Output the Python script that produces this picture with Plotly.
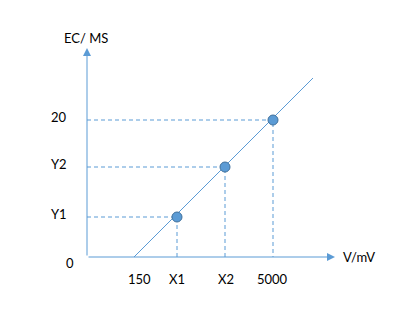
import plotly.graph_objects as go

# Schematic values (drawing units on each axis)
x_tick_vals = [47, 90, 138, 186]
x_tick_text = ["150", "X1", "X2", "5000"]
pt_x = [90, 138, 186]
pt_y = [40, 90, 137]
y_tick_text = ["Y1", "Y2", "20"]
line_x = [47, 226]
line_y = [0, 179]

BLUE = "#5B9BD5"
DARK = "#41719C"
FONT = dict(family="Lato", size=13, color="#000000")

X_MAX, Y_MAX = 248, 209
x_label_shift = [5, 0, 1, -1]

fig = go.Figure()

# dashed guide lines
for px, py in zip(pt_x, pt_y):
    fig.add_trace(go.Scatter(x=[0, px, px], y=[py, py, 0], mode="lines",
                             line=dict(color=BLUE, width=1, dash="4px,3px"),
                             hoverinfo="skip", showlegend=False))

# calibration line
fig.add_trace(go.Scatter(x=line_x, y=line_y, mode="lines",
                         line=dict(color=BLUE, width=1), showlegend=False))

# points
fig.add_trace(go.Scatter(x=pt_x, y=pt_y, mode="markers",
                         marker=dict(size=10, color=BLUE, line=dict(color=DARK, width=1)),
                         showlegend=False))

ann = []
# axes with arrows
ann.append(dict(x=X_MAX, y=0, ax=0, ay=0, xref="x", yref="y", axref="x", ayref="y",
                text="", showarrow=True, arrowhead=2, arrowsize=1.6, arrowwidth=1,
                arrowcolor=BLUE, standoff=0, startstandoff=0))
ann.append(dict(x=0, y=Y_MAX, ax=0, ay=0, xref="x", yref="y", axref="x", ayref="y",
                text="", showarrow=True, arrowhead=2, arrowsize=1.6, arrowwidth=1,
                arrowcolor=BLUE, standoff=0, startstandoff=0))

# x tick labels
for v, t, s in zip(x_tick_vals, x_tick_text, x_label_shift):
    ann.append(dict(x=v, y=0, xref="x", yref="y", text=t, showarrow=False,
                    xanchor="center", yanchor="middle", yshift=-22, xshift=s, font=FONT))
# y tick labels
for v, t in zip(pt_y, y_tick_text):
    ann.append(dict(x=0, y=v, xref="x", yref="y", text=t, showarrow=False,
                    xanchor="center", yanchor="middle", xshift=-28, yshift=3, font=FONT))
# origin label
ann.append(dict(x=0, y=0, xref="x", yref="y", text="0", showarrow=False,
                xanchor="center", yanchor="middle", xshift=-17, yshift=-6, font=FONT))
# axis titles
ann.append(dict(x=0, y=Y_MAX, xref="x", yref="y", text="EC/ MS", showarrow=False,
                xanchor="center", yanchor="middle", xshift=-1, yshift=10, font=FONT))
ann.append(dict(x=X_MAX, y=0, xref="x", yref="y", text="V/mV", showarrow=False,
                xanchor="left", yanchor="middle", xshift=6, font=FONT))

fig.update_layout(
    width=412, height=329,
    margin=dict(l=87, r=77, t=48, b=72),
    paper_bgcolor="white", plot_bgcolor="white",
    xaxis=dict(range=[0, X_MAX], visible=False, fixedrange=True),
    yaxis=dict(range=[0, Y_MAX], visible=False, fixedrange=True),
    annotations=ann,
    showlegend=False,
)

fig.write_html("out.html")
